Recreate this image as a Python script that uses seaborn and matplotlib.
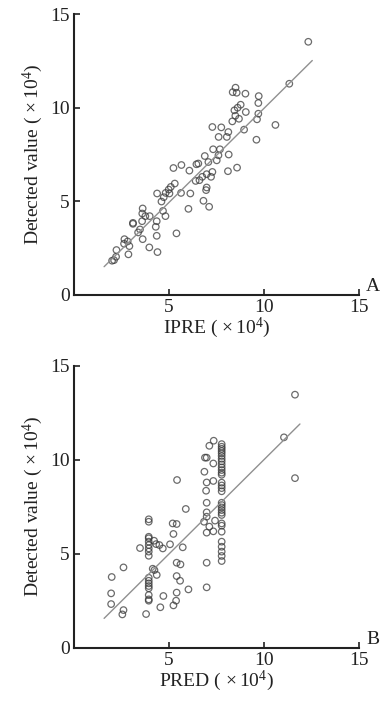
import numpy as np
import pandas as pd
import matplotlib
matplotlib.use("Agg")
import matplotlib.pyplot as plt
import seaborn as sns

# ---- Panel A data: IPRE vs detected value (x10^4) ----
ipre_x = [12.33, 11.33, 10.6, 9.6, 8.5, 8.56, 8.35, 9.02, 9.72, 9.7, 8.77, 8.61, 8.44, 9.04,
          8.49, 8.68, 8.33, 9.7, 9.63, 7.28, 7.75, 8.12, 7.61, 8.04, 8.95, 7.32, 7.68, 7.6,
          8.14, 6.88, 7.51, 7.07, 6.54, 6.44, 5.65, 5.23, 6.07, 8.58, 8.1, 7.28, 7.21, 6.98,
          6.75, 6.6, 6.4, 6.98, 6.95, 5.3, 5.09, 4.98, 4.82, 5.63, 6.12, 5.02, 4.72, 4.37,
          4.6, 6.81, 7.11, 6.02, 4.81, 4.68, 4.35, 4.3, 4.35, 5.39, 4.39, 3.96, 3.61, 3.59,
          3.75, 3.98, 3.58, 3.1, 3.1, 3.37, 3.47, 3.61, 2.82, 2.65, 2.91, 2.63, 2.86, 2.23,
          2.21, 2.1, 2.0]
ipre_y = [13.52, 11.28, 9.08, 8.29, 11.07, 10.8, 10.83, 10.75, 10.62, 10.25, 10.16, 10.0, 9.86, 9.77,
          9.57, 9.41, 9.27, 9.68, 9.38, 8.97, 8.95, 8.7, 8.44, 8.44, 8.83, 7.78, 7.78, 7.46,
          7.5, 7.42, 7.19, 7.1, 7.02, 6.98, 6.94, 6.78, 6.64, 6.8, 6.61, 6.57, 6.31, 6.45,
          6.31, 6.13, 6.09, 5.74, 5.6, 5.95, 5.77, 5.63, 5.45, 5.45, 5.42, 5.42, 5.22, 5.42,
          4.99, 5.03, 4.71, 4.6, 4.21, 4.49, 3.94, 3.64, 3.16, 3.29, 2.29, 2.54, 4.62, 4.35,
          4.21, 4.21, 3.94, 3.85, 3.8, 3.34, 3.5, 2.98, 2.86, 2.98, 2.61, 2.74, 2.17, 2.4,
          2.04, 1.86, 1.83]
fit_a_x = [1.58, 12.54]
fit_a_y = [1.51, 12.52]

# ---- Panel B data: PRED vs detected value (x10^4) ----
col_b1_y = [10.83, 10.69, 10.58, 10.46, 10.34, 10.2, 10.05, 9.91, 9.75, 9.59, 9.45, 9.31, 9.2,
            8.78, 8.63, 8.49, 8.32, 7.71, 7.59, 7.46, 7.32, 7.18, 7.06, 6.61, 6.49, 6.17,
            5.64, 5.37, 5.11, 4.88, 4.61]
col_b2_y = [6.83, 6.7, 5.9, 5.82, 5.64, 5.46, 5.28, 5.11, 4.89, 3.72, 3.56, 3.42, 3.28,
            3.16, 2.8, 2.57, 2.5]
other_b_x = [11.63, 11.05, 11.63, 7.35, 7.12, 6.89, 6.98, 7.33, 6.86, 6.98, 7.33, 6.95, 6.98,
             6.98, 6.98, 6.84, 7.42, 7.12, 7.33, 6.98, 6.98, 6.98, 5.88, 5.42, 5.19, 5.4,
             5.23, 5.05, 5.72, 5.4, 5.6, 5.4, 5.58, 6.02, 5.4, 5.37, 5.23, 4.7, 4.54, 4.67,
             4.49, 4.32, 4.21, 4.35, 4.23, 4.14, 3.47, 3.79, 2.6, 1.98, 1.95, 1.95, 2.6, 2.54]
other_b_y = [13.46, 11.19, 9.02, 11.01, 10.74, 10.11, 10.11, 9.8, 9.36, 8.79, 8.87, 8.35, 7.71,
             7.2, 6.97, 6.7, 6.76, 6.44, 6.19, 6.12, 4.52, 3.21, 7.38, 8.92, 6.61, 6.58,
             6.05, 5.5, 5.34, 4.52, 4.43, 3.81, 3.56, 3.1, 2.93, 2.5, 2.25, 2.75, 2.15, 5.28,
             5.46, 5.51, 5.69, 3.87, 4.13, 4.2, 5.3, 1.79, 4.27, 3.76, 2.89, 2.32, 2.0, 1.77]
col_b1_x = 7.77
col_b2_x = 3.93
pred_x = other_b_x + [col_b1_x] * len(col_b1_y) + [col_b2_x] * len(col_b2_y)
pred_y = other_b_y + col_b1_y + col_b2_y
fit_b_x = [1.58, 11.89]
fit_b_y = [1.56, 11.9]

ticks_y = [0, 5, 10, 15]
ticks_x = [5, 10, 15]

sns.set_theme(style="ticks")
plt.rcParams["font.family"] = ["Liberation Serif", "DejaVu Serif"]
plt.rcParams["mathtext.fontset"] = "custom"
plt.rcParams["mathtext.rm"] = "Liberation Serif"
plt.rcParams["mathtext.it"] = "Liberation Serif:italic"

fig = plt.figure(figsize=(3.9, 7.04), dpi=100)
ax_a = fig.add_axes([0.19, 0.581, 0.7305, 0.399])
ax_b = fig.add_axes([0.19, 0.080, 0.7305, 0.4005])

panels = [
    (ax_a, ipre_x, ipre_y, fit_a_x, fit_a_y, r"IPRE ($\,\times$10$^4$)", "A"),
    (ax_b, pred_x, pred_y, fit_b_x, fit_b_y, r"PRED ($\,\times$10$^4$)", "B"),
]

for ax, xs, ys, fx, fy, xlabel, tag in panels:
    df = pd.DataFrame({"x": xs, "y": ys})
    sns.scatterplot(data=df, x="x", y="y", ax=ax, marker="o", s=22,
                    facecolor="none", edgecolor="#3a3a3a", linewidth=0.9, alpha=0.75)
    fit = pd.DataFrame({"x": fx, "y": fy})
    sns.lineplot(data=fit, x="x", y="y", ax=ax, color="#909090", linewidth=1.0)
    ax.set_xlim(0, 15)
    ax.set_ylim(0, 15)
    ax.set_xticks(ticks_x)
    ax.set_yticks(ticks_y)
    ax.tick_params(direction="in", length=4, width=1.2, labelsize=14, colors="#222222", pad=3)
    for sp in ["left", "bottom"]:
        ax.spines[sp].set_linewidth(1.5)
        ax.spines[sp].set_color("#222222")
    sns.despine(ax=ax)
    ax.set_xlabel(xlabel, fontsize=14, color="#222222", labelpad=0)
    ax.set_ylabel(r"Detected value ($\,\times$10$^4$)", fontsize=14, color="#222222", labelpad=4)
    ax.text(1.025, 0.0, tag, transform=ax.transAxes, fontsize=14, color="#222222",
            ha="left", va="bottom")

fig.savefig("out.png", dpi=100)
